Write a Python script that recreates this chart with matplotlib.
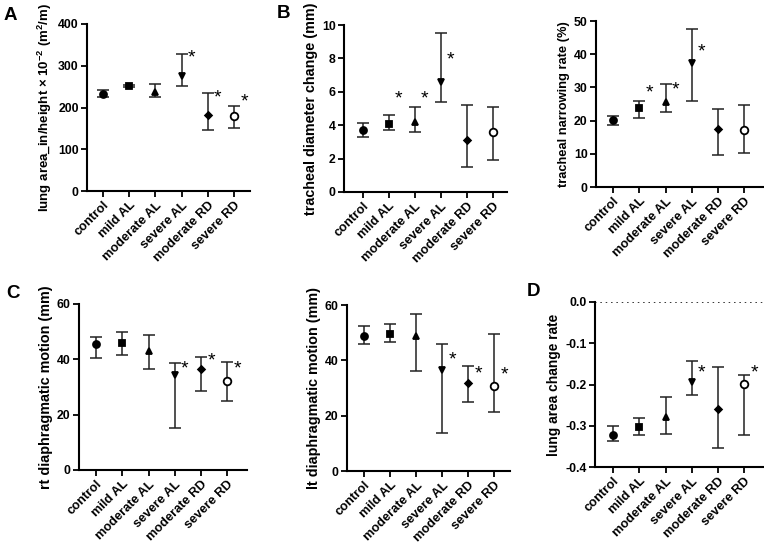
import matplotlib
matplotlib.use("Agg")
import matplotlib.pyplot as plt

plt.rcParams['font.family'] = ['Liberation Sans', 'DejaVu Sans']
plt.rcParams['font.weight'] = 'bold'
plt.rcParams['mathtext.default'] = 'regular'

groups = ["control", "mild AL", "moderate AL", "severe AL", "moderate RD", "severe RD"]
markers = ["o", "s", "^", "v", "D", "o"]
filled = [True, True, True, True, True, False]
msizes = [5, 5, 5, 5, 3.5, 5.5]

# Panel A: lung area
a_mean = [233, 251, 238, 275, 183, 179]
a_lo = [225, 248, 225, 252, 147, 152]
a_hi = [242, 254, 257, 327, 234, 204]
a_star = [None, None, None, 318, 222, 213]

# Panel B: tracheal diameter change
b_mean = [3.7, 4.05, 4.2, 6.6, 3.1, 3.6]
b_lo = [3.3, 3.7, 3.6, 5.4, 1.5, 1.9]
b_hi = [4.15, 4.6, 5.1, 9.5, 5.2, 5.1]
b_star = [None, 5.6, 5.6, 7.9, None, None]

# Panel B2: tracheal narrowing rate
n_mean = [20.3, 23.8, 25.5, 37.2, 17.4, 17.1]
n_lo = [18.8, 20.8, 22.5, 26.0, 9.5, 10.3]
n_hi = [21.5, 26.0, 31.0, 47.5, 23.5, 24.7]
n_star = [None, 28.3, 29.3, 40.7, None, None]

# Panel C: rt diaphragmatic motion
c_mean = [45.5, 45.8, 42.9, 34.2, 36.4, 32.3]
c_lo = [40.6, 41.4, 36.6, 15.3, 28.6, 24.8]
c_hi = [48.2, 50.0, 48.9, 38.7, 41.0, 39.1]
c_star = [None, None, None, 36.4, 39.3, 36.4]

# Panel C2: lt diaphragmatic motion
l_mean = [48.8, 49.6, 48.9, 36.4, 31.9, 30.8]
l_lo = [45.9, 46.7, 36.3, 13.7, 25.0, 21.2]
l_hi = [52.5, 53.0, 56.7, 45.8, 37.8, 49.6]
l_star = [None, None, None, 40.1, 35.1, 34.7]

# Panel D: lung area change rate
d_mean = [-0.322, -0.302, -0.279, -0.194, -0.259, -0.198]
d_lo = [-0.338, -0.323, -0.319, -0.225, -0.355, -0.322]
d_hi = [-0.300, -0.281, -0.230, -0.144, -0.158, -0.177]
d_star = [None, None, None, -0.173, None, -0.173]

W, H = 764, 549
fig = plt.figure(figsize=(W / 100, H / 100), dpi=100)


def make_ax(left, right, top, bottom):
    return fig.add_axes([left / W, 1 - bottom / H, (right - left) / W, (bottom - top) / H])


def panel(ax, mean, lo, hi, star, ylim, yticks, ylabel, xlim, lfs, ticklabels=None):
    x = list(range(len(groups)))
    for i in x:
        ax.errorbar(i, mean[i], yerr=[[mean[i] - lo[i]], [hi[i] - mean[i]]],
                    fmt='none', ecolor='#222222', elinewidth=1.1, capsize=4.5,
                    capthick=1.1, zorder=2)
        ax.plot(i, mean[i], marker=markers[i], ms=msizes[i],
                mfc='black' if filled[i] else 'white', mec='black', mew=1.3,
                ls='none', zorder=3)
        if star[i] is not None:
            ax.text(i + 0.38, star[i], '*', fontsize=14, ha='center', va='center',
                    fontweight='normal')
    ax.set_xlim(*xlim)
    ax.set_ylim(*ylim)
    ax.set_yticks(yticks)
    if ticklabels is not None:
        ax.set_yticklabels(ticklabels)
    ax.set_xticks(x)
    ax.set_xticklabels(groups, rotation=45, ha='right', rotation_mode='anchor')
    ax.spines['top'].set_visible(False)
    ax.spines['right'].set_visible(False)
    for s in ['left', 'bottom']:
        ax.spines[s].set_linewidth(1.5)
    ax.tick_params(width=1.3, length=4, pad=2)
    ax.tick_params(axis='x', labelsize=9.2)
    ax.tick_params(axis='y', labelsize=8.8)
    ax.set_ylabel(ylabel, fontsize=lfs, fontweight='bold', labelpad=3)
    for t in ax.get_xticklabels() + ax.get_yticklabels():
        t.set_fontweight('bold')


axA = make_ax(87, 250, 24, 191)
panel(axA, a_mean, a_lo, a_hi, a_star, (0, 400), [0, 100, 200, 300, 400],
      'lung area_in/height × 10$^{-2}$ (m$^{2}$/m)', (-0.6, 5.6), 9.5)

axB = make_ax(344, 507, 25, 192)
panel(axB, b_mean, b_lo, b_hi, b_star, (0, 10), [0, 2, 4, 6, 8, 10],
      'tracheal diameter change (mm)', (-0.72, 5.55), 10.4)

axB2 = make_ax(596, 764, 21, 187)
panel(axB2, n_mean, n_lo, n_hi, n_star, (0, 50), [0, 10, 20, 30, 40, 50],
      'tracheal narrowing rate (%)', (-0.65, 5.75), 9.3)

axC = make_ax(79, 247, 304, 470)
panel(axC, c_mean, c_lo, c_hi, c_star, (0, 60), [0, 20, 40, 60],
      'rt diaphragmatic motion (mm)', (-0.65, 5.75), 10.4)

axC2 = make_ax(347, 510, 305, 471)
panel(axC2, l_mean, l_lo, l_hi, l_star, (0, 60), [0, 20, 40, 60],
      'lt diaphragmatic motion (mm)', (-0.65, 5.6), 10.4)

axD = make_ax(595, 764, 302, 467)
panel(axD, d_mean, d_lo, d_hi, d_star, (-0.4, 0), [-0.4, -0.3, -0.2, -0.1, 0.0],
      'lung area change rate', (-0.69, 5.75), 9.9,
      ticklabels=['-0.4', '-0.3', '-0.2', '-0.1', '0.0'])
axD.axhline(0, color='black', ls=(0, (1, 2.5)), lw=1.1, zorder=1)

for lbl, (px, py) in zip("ABCD", [(10, 16), (283, 14), (13, 293), (533, 292)]):
    fig.text(px / W, 1 - py / H, lbl, fontsize=13.5, fontweight='bold', ha='center', va='center')

fig.savefig('out.png', dpi=100)
